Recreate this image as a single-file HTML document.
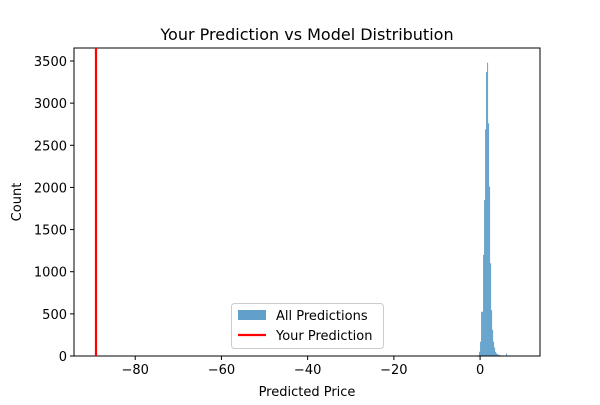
<!DOCTYPE html>
<html><head><meta charset="utf-8"><style>
body{margin:0;background:#fff;font-family:"Liberation Sans","DejaVu Sans",sans-serif}
</style></head><body>
<svg id="c" width="600" height="400" xmlns="http://www.w3.org/2000/svg" style="font-family:'DejaVu Sans','Liberation Sans',sans-serif">
<rect width="600" height="400" fill="#fff"/>
<text x="307" y="40" text-anchor="middle" font-size="16">Your Prediction vs Model Distribution</text>
<g id="bars"></g>
<g id="axes"></g>
</svg>
<script>
const binStart = -0.46;
const binWidth = 0.232;
const counts = [10,50,170,525,525,1200,1850,2690,3370,3480,2760,2010,1100,545,310,170,100,50,30,20,15,10,8,5,5,5,3,3,30,5,3,2,2];
const yourPrediction = [-89.1];
const xTicks = [-80,-60,-40,-20,0];
const yTicks = [0,500,1000,1500,2000,2500,3000,3500];
const L=74,R=540,T=48,B=356;
const xMin=-94.2,xMax=13.9,yMax=3500*295/3500*(B-T)/295;
const sx=v=>L+(v-xMin)/(xMax-xMin)*(R-L);
const sy=v=>B-v*0.08429;
const NS="http://www.w3.org/2000/svg";
function mk(tag,attrs,parent,text){const e=document.createElementNS(NS,tag);for(const k in attrs)e.setAttribute(k,attrs[k]);if(text!==undefined)e.textContent=text;parent.appendChild(e);return e;}
const svg=document.getElementById('c');
const bars=document.getElementById('bars');
counts.forEach((c,i)=>{
 const x0=sx(binStart+i*binWidth),x1=sx(binStart+(i+1)*binWidth);
 const r=mk('rect',{x:x0,y:sy(c),width:x1-x0,height:B-sy(c),fill:'#1f77b4','fill-opacity':0.7},bars);
 
 
});
yourPrediction.forEach(v=>{
 const l=mk('line',{x1:sx(v),x2:sx(v),y1:T,y2:B,stroke:'#ff0000','stroke-width':2.2},svg);
 
 
});
const ax=document.getElementById('axes');
const fr=mk('rect',{x:L,y:T,width:R-L,height:B-T,fill:'none',stroke:'#000','stroke-width':1},ax);


xTicks.forEach(t=>{
 mk('line',{x1:sx(t),x2:sx(t),y1:B,y2:B+4,stroke:'#000'},ax);
 const tx=mk('text',{x:sx(t),y:B+18,'text-anchor':'middle','font-size':13},ax,t<0?'\u2212'+Math.abs(t):String(t));
 
 
});
yTicks.forEach(t=>{
 mk('line',{x1:L-4,x2:L,y1:sy(t),y2:sy(t),stroke:'#000'},ax);
 const tx=mk('text',{x:L-7,y:sy(t)+5,'text-anchor':'end','font-size':13},ax,String(t));
 
 
});
</script>
<svg width="600" height="400" style="position:absolute;left:0;top:0;font-family:'DejaVu Sans','Liberation Sans',sans-serif">
<text x="307" y="396" text-anchor="middle" font-size="13">Predicted Price</text>
<text x="21" y="202" text-anchor="middle" font-size="13" transform="rotate(-90 21 202)">Count</text>
<g>
<rect x="231.5" y="303.5" width="152" height="45" rx="3" fill="#fff" fill-opacity="0.8" stroke="#ccc"/>
<rect x="238" y="310" width="28" height="10" fill="#1f77b4" fill-opacity="0.7"/>
<text x="276" y="320" font-size="13">All Predictions</text>
<line x1="238" x2="266" y1="335" y2="335" stroke="#ff0000" stroke-width="2.2"/>
<text x="276" y="340" font-size="13">Your Prediction</text>
</g>
</svg>
</body></html>
